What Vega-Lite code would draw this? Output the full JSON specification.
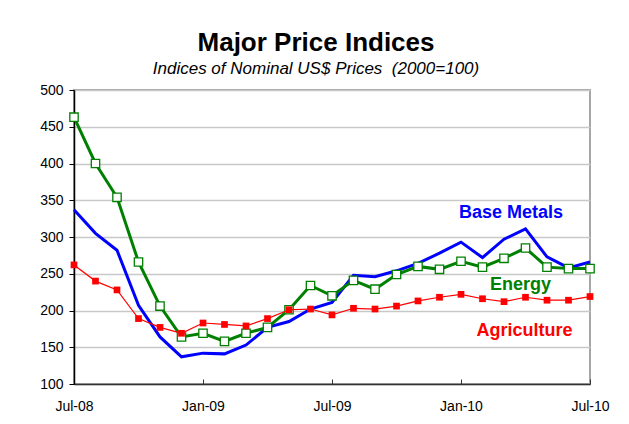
{
  "$schema": "https://vega.github.io/schema/vega-lite/v6.json",
  "width": 516,
  "height": 294,
  "autosize": {"type": "none"},
  "padding": {"left": 74, "top": 90, "right": 39, "bottom": 40},
  "background": "white",
  "title": {
    "text": "Major Price Indices",
    "subtitle": "Indices of Nominal US$ Prices\u00a0 (2000=100)",
    "anchor": "middle",
    "dx": -16,
    "offset": 6,
    "font": "Liberation Sans",
    "fontSize": 26,
    "fontWeight": "bold",
    "color": "black",
    "subtitleFont": "Liberation Sans",
    "subtitleFontSize": 17,
    "subtitleFontStyle": "italic",
    "subtitleColor": "black",
    "subtitlePadding": 5
  },
  "config": {
    "view": {"stroke": "#a6a6a6", "strokeWidth": 2},
    "font": "Liberation Sans"
  },
  "datasets": {
    "series": [
      {"m": "Jul-08", "s": "Base Metals", "v": 337}, {"m": "Aug-08", "s": "Base Metals", "v": 305}, {"m": "Sep-08", "s": "Base Metals", "v": 282}, {"m": "Oct-08", "s": "Base Metals", "v": 207}, {"m": "Nov-08", "s": "Base Metals", "v": 164}, {"m": "Dec-08", "s": "Base Metals", "v": 137}, {"m": "Jan-09", "s": "Base Metals", "v": 142}, {"m": "Feb-09", "s": "Base Metals", "v": 141}, {"m": "Mar-09", "s": "Base Metals", "v": 153}, {"m": "Apr-09", "s": "Base Metals", "v": 177}, {"m": "May-09", "s": "Base Metals", "v": 185}, {"m": "Jun-09", "s": "Base Metals", "v": 202}, {"m": "Jul-09", "s": "Base Metals", "v": 211}, {"m": "Aug-09", "s": "Base Metals", "v": 248}, {"m": "Sep-09", "s": "Base Metals", "v": 246}, {"m": "Oct-09", "s": "Base Metals", "v": 254}, {"m": "Nov-09", "s": "Base Metals", "v": 264}, {"m": "Dec-09", "s": "Base Metals", "v": 278}, {"m": "Jan-10", "s": "Base Metals", "v": 293}, {"m": "Feb-10", "s": "Base Metals", "v": 272}, {"m": "Mar-10", "s": "Base Metals", "v": 297}, {"m": "Apr-10", "s": "Base Metals", "v": 311}, {"m": "May-10", "s": "Base Metals", "v": 273}, {"m": "Jun-10", "s": "Base Metals", "v": 258}, {"m": "Jul-10", "s": "Base Metals", "v": 266},
      {"m": "Jul-08", "s": "Energy", "v": 463}, {"m": "Aug-08", "s": "Energy", "v": 400}, {"m": "Sep-08", "s": "Energy", "v": 354}, {"m": "Oct-08", "s": "Energy", "v": 266}, {"m": "Nov-08", "s": "Energy", "v": 206}, {"m": "Dec-08", "s": "Energy", "v": 164}, {"m": "Jan-09", "s": "Energy", "v": 169}, {"m": "Feb-09", "s": "Energy", "v": 158}, {"m": "Mar-09", "s": "Energy", "v": 169}, {"m": "Apr-09", "s": "Energy", "v": 177}, {"m": "May-09", "s": "Energy", "v": 201}, {"m": "Jun-09", "s": "Energy", "v": 234}, {"m": "Jul-09", "s": "Energy", "v": 220}, {"m": "Aug-09", "s": "Energy", "v": 241}, {"m": "Sep-09", "s": "Energy", "v": 229}, {"m": "Oct-09", "s": "Energy", "v": 249}, {"m": "Nov-09", "s": "Energy", "v": 260}, {"m": "Dec-09", "s": "Energy", "v": 256}, {"m": "Jan-10", "s": "Energy", "v": 267}, {"m": "Feb-10", "s": "Energy", "v": 259}, {"m": "Mar-10", "s": "Energy", "v": 271}, {"m": "Apr-10", "s": "Energy", "v": 285}, {"m": "May-10", "s": "Energy", "v": 259}, {"m": "Jun-10", "s": "Energy", "v": 257}, {"m": "Jul-10", "s": "Energy", "v": 257},
      {"m": "Jul-08", "s": "Agriculture", "v": 262}, {"m": "Aug-08", "s": "Agriculture", "v": 240}, {"m": "Sep-08", "s": "Agriculture", "v": 228}, {"m": "Oct-08", "s": "Agriculture", "v": 189}, {"m": "Nov-08", "s": "Agriculture", "v": 177}, {"m": "Dec-08", "s": "Agriculture", "v": 169}, {"m": "Jan-09", "s": "Agriculture", "v": 183}, {"m": "Feb-09", "s": "Agriculture", "v": 181}, {"m": "Mar-09", "s": "Agriculture", "v": 179}, {"m": "Apr-09", "s": "Agriculture", "v": 189}, {"m": "May-09", "s": "Agriculture", "v": 201}, {"m": "Jun-09", "s": "Agriculture", "v": 202}, {"m": "Jul-09", "s": "Agriculture", "v": 194}, {"m": "Aug-09", "s": "Agriculture", "v": 203}, {"m": "Sep-09", "s": "Agriculture", "v": 202}, {"m": "Oct-09", "s": "Agriculture", "v": 206}, {"m": "Nov-09", "s": "Agriculture", "v": 213}, {"m": "Dec-09", "s": "Agriculture", "v": 218}, {"m": "Jan-10", "s": "Agriculture", "v": 222}, {"m": "Feb-10", "s": "Agriculture", "v": 216}, {"m": "Mar-10", "s": "Agriculture", "v": 212}, {"m": "Apr-10", "s": "Agriculture", "v": 218}, {"m": "May-10", "s": "Agriculture", "v": 214}, {"m": "Jun-10", "s": "Agriculture", "v": 214}, {"m": "Jul-10", "s": "Agriculture", "v": 219}
    ],
    "labels": [
      {"m": "Mar-10", "s": "Base Metals", "v": 332},
      {"m": "Apr-10", "s": "Energy", "v": 235},
      {"m": "Apr-10", "s": "Agriculture", "v": 172}
    ]
  },
  "encoding": {
    "x": {
      "field": "m",
      "type": "ordinal",
      "sort": null,
      "scale": {
        "type": "point",
        "padding": 0,
        "domain": ["Jul-08", "Aug-08", "Sep-08", "Oct-08", "Nov-08", "Dec-08", "Jan-09", "Feb-09", "Mar-09", "Apr-09", "May-09", "Jun-09", "Jul-09", "Aug-09", "Sep-09", "Oct-09", "Nov-09", "Dec-09", "Jan-10", "Feb-10", "Mar-10", "Apr-10", "May-10", "Jun-10", "Jul-10"]
      },
      "axis": {
        "title": null,
        "values": ["Jul-08", "Jan-09", "Jul-09", "Jan-10", "Jul-10"],
        "labelAngle": 0,
        "tickSize": -5,
        "labelPadding": 20,
        "domainColor": "#333333",
        "domainWidth": 1.5,
        "tickColor": "#333333",
        "labelFontSize": 14,
        "labelColor": "black",
        "labelFont": "Liberation Sans",
        "grid": false
      }
    },
    "y": {
      "field": "v",
      "type": "quantitative",
      "scale": {"domain": [100, 500], "nice": false, "zero": false},
      "axis": {
        "title": null,
        "values": [100, 150, 200, 250, 300, 350, 400, 450, 500],
        "tickSize": 5,
        "labelPadding": 6,
        "domainColor": "black",
        "domainWidth": 1.5,
        "tickColor": "black",
        "gridColor": "#c8c8c8",
        "gridWidth": 1.5,
        "labelFontSize": 14,
        "labelColor": "black",
        "labelFont": "Liberation Sans"
      }
    },
    "color": {
      "field": "s",
      "type": "nominal",
      "scale": {"domain": ["Base Metals", "Energy", "Agriculture"], "range": ["#0000ff", "#008000", "#ff0000"]},
      "legend": null
    }
  },
  "layer": [
    {
      "data": {"name": "series"},
      "transform": [{"filter": "datum.s == 'Base Metals'"}],
      "mark": {"type": "line", "strokeWidth": 3}
    },
    {
      "data": {"name": "series"},
      "transform": [{"filter": "datum.s == 'Energy'"}],
      "mark": {"type": "line", "strokeWidth": 3}
    },
    {
      "data": {"name": "series"},
      "transform": [{"filter": "datum.s == 'Energy'"}],
      "mark": {"type": "point", "shape": "square", "filled": true, "fill": "white", "stroke": "#008000", "strokeWidth": 1.3, "size": 70, "opacity": 1},
      "encoding": {"color": {"value": "#008000"}, "fill": {"value": "white"}}
    },
    {
      "data": {"name": "series"},
      "transform": [{"filter": "datum.s == 'Agriculture'"}],
      "mark": {"type": "line", "strokeWidth": 1.2}
    },
    {
      "data": {"name": "series"},
      "transform": [{"filter": "datum.s == 'Agriculture'"}],
      "mark": {"type": "point", "shape": "square", "filled": true, "size": 45, "opacity": 1}
    },
    {
      "data": {"name": "labels"},
      "transform": [{"filter": "datum.s == 'Base Metals'"}],
      "mark": {"type": "text", "font": "Liberation Sans", "fontWeight": "bold", "fontSize": 18, "dx": 7, "baseline": "middle", "align": "center"},
      "encoding": {"text": {"field": "s"}}
    },
    {
      "data": {"name": "labels"},
      "transform": [{"filter": "datum.s == 'Energy'"}],
      "mark": {"type": "text", "font": "Liberation Sans", "fontWeight": "bold", "fontSize": 18, "dx": -5, "baseline": "middle", "align": "center"},
      "encoding": {"text": {"field": "s"}}
    },
    {
      "data": {"name": "labels"},
      "transform": [{"filter": "datum.s == 'Agriculture'"}],
      "mark": {"type": "text", "font": "Liberation Sans", "fontWeight": "bold", "fontSize": 18, "dx": -1, "baseline": "middle", "align": "center"},
      "encoding": {"text": {"field": "s"}}
    }
  ]
}
